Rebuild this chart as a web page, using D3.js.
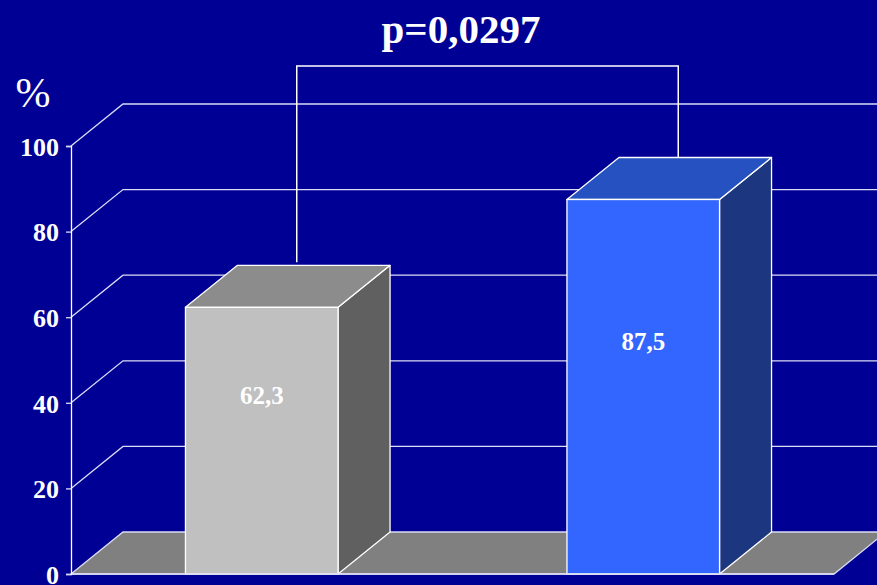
<!DOCTYPE html>
<html>
<head>
<meta charset="utf-8">
<script src="https://cdn.jsdelivr.net/npm/d3@7"></script>
<style>
  html, body { margin: 0; padding: 0; background: #000094; }
  svg { display: block; }
</style>
</head>
<body>
<svg id="chart" width="877" height="585"></svg>
<script>
// Two groups compared as percentages
const categories = ["group1", "group2"];
const values = [62.3, 87.5];
const valueLabels = ["62,3", "87,5"];
const tickValues = [0, 20, 40, 60, 80, 100];
const pLabel = "p=0,0297";
const unitLabel = "%";

// Face colours per bar: front, top, side
const frontColors = ["#c0c0c0", "#3366ff"];
const topColors = ["#8c8c8c", "#2651c0"];
const sideColors = ["#606060", "#1c3680"];

const W = 877, H = 585;
const svg = d3.select("#chart");
const font = "'Liberation Serif', 'Times New Roman', serif";

// 3D depth offset
const DX = 52, DY = -42;

const x = d3.scaleBand()
  .domain(categories)
  .range([71, 834])
  .paddingInner(0.6)
  .paddingOuter(0.3);

const y = d3.scaleLinear().domain([0, 100]).range([574, 146]);

const gridColor = "#dcdcf5";

// back wall gridlines (skip 0, hidden by the floor)
tickValues.filter(t => t > 0).forEach(t => {
  svg.append("path")
    .attr("d", `M${x.range()[0]},${y(t)} L${x.range()[0] + DX},${y(t) + DY} L${W + 5},${y(t) + DY}`)
    .attr("fill", "none")
    .attr("stroke", gridColor)
    .attr("stroke-width", 1.3);
});

// floor
const x0 = x.range()[0], x1 = x.range()[1];
svg.append("path")
  .attr("d", `M${x0},${y(0)} L${x0 + DX},${y(0) + DY} L${x1 + DX},${y(0) + DY} L${x1},${y(0)} Z`)
  .attr("fill", "#808080")
  .attr("stroke", gridColor)
  .attr("stroke-width", 1.3);

// significance bracket between the two bars
const bx = categories.map(c => x(c) + x.bandwidth() / 2 + 35);
const bracketTop = 66;
svg.append("path")
  .attr("d", `M${bx[0]},${y(values[0]) + DY - 3} L${bx[0]},${bracketTop} L${bx[1]},${bracketTop} L${bx[1]},${y(values[1]) + DY}`)
  .attr("fill", "none")
  .attr("stroke", "#ffffff")
  .attr("stroke-width", 1.5);

// bars
categories.forEach((c, i) => {
  const l = x(c), r = l + x.bandwidth();
  const t = y(values[i]), b = y(0);
  const g = svg.append("g");
  // side face
  g.append("path")
    .attr("d", `M${r},${t} L${r + DX},${t + DY} L${r + DX},${b + DY} L${r},${b} Z`)
    .attr("fill", sideColors[i])
    .attr("stroke", "#ffffff").attr("stroke-width", 1.3).attr("stroke-linejoin", "round");
  // top face
  g.append("path")
    .attr("d", `M${l},${t} L${l + DX},${t + DY} L${r + DX},${t + DY} L${r},${t} Z`)
    .attr("fill", topColors[i])
    .attr("stroke", "#ffffff").attr("stroke-width", 1.3).attr("stroke-linejoin", "round");
  // front face
  g.append("rect")
    .attr("x", l).attr("y", t)
    .attr("width", r - l).attr("height", b - t)
    .attr("fill", frontColors[i])
    .attr("stroke", "#ffffff").attr("stroke-width", 1.3);
  // value label
  g.append("text")
    .attr("x", l + x.bandwidth() / 2)
    .attr("y", y(values[i] / 2 + 10.6))
    .attr("dy", "0.35em")
    .attr("text-anchor", "middle")
    .attr("fill", "#ffffff")
    .attr("font-family", font)
    .attr("font-weight", "bold")
    .attr("font-size", 25)
    .text(valueLabels[i]);
});

// baseline along the floor front edge
svg.append("line")
  .attr("x1", x0).attr("x2", x1)
  .attr("y1", y(0)).attr("y2", y(0))
  .attr("stroke", gridColor).attr("stroke-width", 1.5);

// y axis
const yAxis = d3.axisLeft(y)
  .tickValues(tickValues)
  .tickSize(5)
  .tickPadding(7)
  .tickFormat(d3.format("d"));
const ag = svg.append("g")
  .attr("transform", `translate(${x0},0)`)
  .call(yAxis);
ag.select(".domain").attr("stroke", "#ffffff").attr("stroke-width", 1.3);
ag.selectAll(".tick line").attr("stroke", gridColor).attr("stroke-width", 1.3);
ag.selectAll(".tick text")
  .attr("fill", "#ffffff")
  .attr("font-family", font)
  .attr("font-weight", "bold")
  .attr("font-size", 26)
  .attr("dy", "0.36em");

// unit label
svg.append("text")
  .attr("x", 33).attr("y", 107)
  .attr("text-anchor", "middle")
  .attr("fill", "#ffffff")
  .attr("font-family", font)
  .attr("font-size", 42)
  .text(unitLabel);

// p-value title
svg.append("text")
  .attr("x", 461).attr("y", 43)
  .attr("text-anchor", "middle")
  .attr("fill", "#ffffff")
  .attr("font-family", font)
  .attr("font-weight", "bold")
  .attr("font-size", 41)
  .text(pLabel);
</script>
</body>
</html>
